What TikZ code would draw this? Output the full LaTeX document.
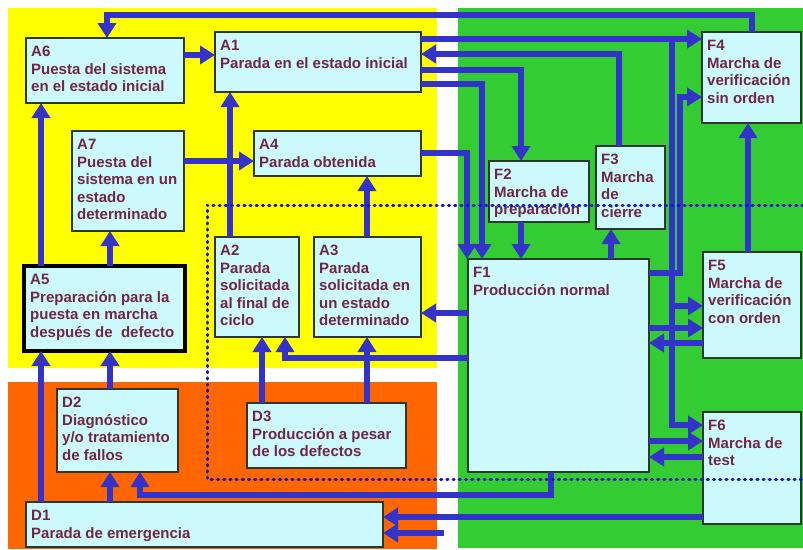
\documentclass[tikz,border=0pt]{standalone}
\usepackage{fontspec}
\setmainfont{Liberation Sans}
\usetikzlibrary{arrows.meta}
\definecolor{bgyellow}{RGB}{255,255,0}
\definecolor{bggreen}{RGB}{51,204,51}
\definecolor{bgorange}{RGB}{255,102,0}
\definecolor{boxfill}{RGB}{204,250,252}
\definecolor{boxline}{RGB}{45,55,45}
\definecolor{connblue}{RGB}{51,51,204}
\definecolor{dotblue}{RGB}{20,20,210}
\definecolor{txt}{RGB}{112,38,68}
\begin{document}
\begin{tikzpicture}[x=1pt,y=-1pt,
  box/.style={draw=boxline, line width=1.2pt, fill=boxfill, inner sep=0pt, outer sep=0pt, anchor=north west},
  thickbox/.style={box, draw=black, line width=4pt},
  lbl/.style={anchor=north west, inner sep=0pt, align=left, text=txt, font=\fontsize{15}{17.5}\selectfont\bfseries},
  conn/.style={draw=connblue, line width=5.2pt, -{Triangle[length=15pt,width=18pt]}},
  dotline/.style={draw=dotblue, line width=3pt, line cap=round, dash pattern=on 1.2pt off 5pt}]
\useasboundingbox (0,0) rectangle (803,549);
% backgrounds
\fill[white] (0,0) rectangle (803,549);
\fill[bgyellow] (8,8) rectangle (437,368);
\fill[bggreen] (458,8) rectangle (803,548);
\fill[bgorange] (8,382) rectangle (437,549);
% boxes
\node[box, minimum width=158pt, minimum height=65pt] (a6) at (26,38) {};
\node[box, minimum width=206pt, minimum height=60pt] (a1) at (215,32) {};
\node[box, minimum width=112pt, minimum height=100pt] (a7) at (72,131) {};
\node[box, minimum width=167pt, minimum height=45pt] (a4) at (254,131) {};
\node[box, minimum width=84pt, minimum height=100pt] (a2) at (215,237) {};
\node[box, minimum width=107pt, minimum height=100pt] (a3) at (314,237) {};
\node[thickbox, minimum width=161pt, minimum height=85pt] (a5) at (24,266) {};
\node[box, minimum width=121pt, minimum height=83pt] (d2) at (57,389) {};
\node[box, minimum width=159pt, minimum height=65pt] (d3) at (247,403) {};
\node[box, minimum width=357pt, minimum height=45pt] (d1) at (26,502) {};
\node[box, minimum width=99pt, minimum height=91pt] (f4) at (702,32) {};
\node[box, minimum width=100pt, minimum height=61pt] (f2) at (489,161) {};
\node[box, minimum width=69pt, minimum height=83pt] (f3) at (596,146) {};
\node[box, minimum width=181pt, minimum height=213pt] (f1) at (468,259) {};
\node[box, minimum width=98pt, minimum height=106pt] (f5) at (703,252) {};
\node[box, minimum width=98pt, minimum height=112pt] (f6) at (703,412) {};
% labels
\node[lbl] (ta6) at (31,46) {A6\\Puesta del sistema\\en el estado inicial};
\node[lbl] (ta1) at (220,40) {A1\\Parada en el estado inicial};
\node[lbl] (ta7) at (77,139) {A7\\Puesta del\\sistema en un\\estado\\determinado};
\node[lbl] (ta4) at (259,139) {A4\\Parada obtenida};
\node[lbl] (ta2) at (220,245) {A2\\Parada\\solicitada\\al final de\\ciclo};
\node[lbl] (ta3) at (319,245) {A3\\Parada\\solicitada en\\un estado\\determinado};
\node[lbl] (ta5) at (30,274) {A5\\Preparación para la\\puesta en marcha\\después de~~defecto};
\node[lbl] (td2) at (62,397) {D2\\Diagnóstico\\y/o tratamiento\\de fallos};
\node[lbl] (td3) at (252,411) {D3\\Producción a pesar\\de los defectos};
\node[lbl] (td1) at (31,510) {D1\\Parada de emergencia};
\node[lbl] (tf4) at (707,40) {F4\\Marcha de\\verificación\\sin orden};
\node[lbl] (tf2) at (494,169) {F2\\Marcha de\\preparación};
\node[lbl] (tf3) at (601,154) {F3\\Marcha\\de\\cierre};
\node[lbl] (tf1) at (473,267) {F1\\Producción normal};
\node[lbl] (tf5) at (708,260) {F5\\Marcha de\\verificación\\con orden};
\node[lbl] (tf6) at (708,420) {F6\\Marcha de\\test};
% connectors
\coordinate (j1) at (672,39);
\coordinate (j2) at (672,306);
\coordinate (e1) at (444,533);
\draw[conn] (f4.north -| 752,0) -- (752,15) -| (a6.north -| 107,0);
\draw[conn] (a6.east |- 0,55) -- (a1.west |- 0,55);
\draw[conn] (a1.east |- 0,39) -- (f4.west |- 0,39);
\draw[conn] (j1) |- (f6.west |- 0,425);
\draw[conn] (j2) -- (f5.west |- 0,306);
\draw[conn] (f3.north -| 619,0) |- (a1.east |- 0,54);
\draw[conn] (a1.east |- 0,70) -| (f2.north -| 521,0);
\draw[conn] (a1.east |- 0,84) -| (f1.north -| 482,0);
\draw[conn] (a4.east |- 0,153) -| (f1.north -| 467,0);
\draw[conn] (f2.south -| 521,0) -- (f1.north -| 521,0);
\draw[conn] (f1.north -| 611,0) -- (f3.south -| 611,0);
\draw[conn] (f1.east |- 0,273) -- (680,273) |- (f4.west |- 0,97);
\draw[conn] (f5.north -| 748,0) -- (f4.south -| 748,0);
\draw[conn] (f1.east |- 0,328) -- (f5.west |- 0,328);
\draw[conn] (f5.west |- 0,343) -- (f1.east |- 0,343);
\draw[conn] (f1.east |- 0,441) -- (f6.west |- 0,441);
\draw[conn] (f6.west |- 0,457) -- (f1.east |- 0,457);
\draw[conn] (a2.north -| 230,0) -- (a1.south -| 230,0);
\draw[conn] (a7.east |- 0,161) -- (a4.west |- 0,161);
\draw[conn] (a3.north -| 367,0) -- (a4.south -| 367,0);
\draw[conn] (a5.north -| 41,0) -- (a6.south -| 41,0);
\draw[conn] (a5.north -| 110,0) -- (a7.south -| 110,0);
\draw[conn] (d1.north -| 41,0) -- (a5.south -| 41,0);
\draw[conn] (d2.north -| 110,0) -- (a5.south -| 110,0);
\draw[conn] (d1.north -| 110,0) -- (d2.south -| 110,0);
\draw[conn] (f1.south -| 551,0) -- (551,495) -| (d2.south -| 140,0);
\draw[conn] (f6.west |- 0,517) -- (d1.east |- 0,517);
\draw[conn] (e1) -- (d1.east |- 0,533);
\draw[conn] (d3.north -| 262,0) -- (a2.south -| 262,0);
\draw[conn] (d3.north -| 367,0) -- (a3.south -| 367,0);
\draw[conn] (f1.west |- 0,358) -| (a2.south -| 285,0);
\draw[conn] (f1.west |- 0,313) -- (a3.east |- 0,313);
% dotted boundary
\draw[dotline] (803,205) -- (207,205) -- (207,479) -- (803,479);
\end{tikzpicture}
\end{document}
